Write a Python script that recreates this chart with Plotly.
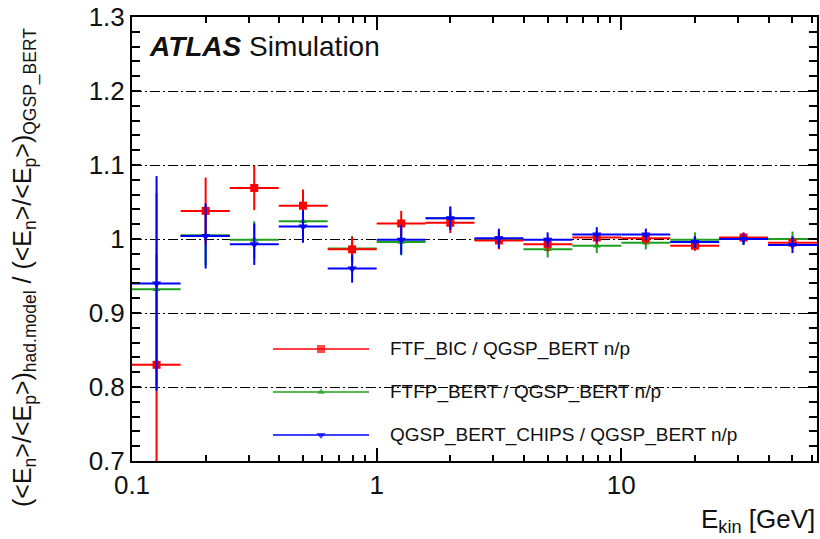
import plotly.graph_objects as go

# ---------------- data ----------------
bin_centers = [0.126, 0.2, 0.316, 0.5, 0.794, 1.26, 2.0, 3.16, 5.0, 7.94, 12.6, 20.0, 31.6, 50.1]
bin_edges = [0.1, 0.158, 0.251, 0.398, 0.631, 1.0, 1.585, 2.512, 3.981, 6.31, 10.0, 15.85, 25.12, 39.81, 63.1]

ftf_bic = [0.830, 1.038, 1.069, 1.045, 0.986, 1.021, 1.022, 0.998, 0.993, 1.002, 1.001, 0.991, 1.002, 0.995]
ftf_bic_err = [0.150, 0.045, 0.030, 0.022, 0.017, 0.017, 0.014, 0.012, 0.010, 0.009, 0.008, 0.007, 0.007, 0.008]

ftfp_bert = [0.932, 1.005, 0.999, 1.024, 0.987, 0.996, 1.028, 0.999, 0.986, 0.991, 0.995, 0.999, 1.000, 1.000]
ftfp_bert_err = [0.130, 0.040, 0.025, 0.022, 0.017, 0.018, 0.015, 0.012, 0.011, 0.010, 0.009, 0.010, 0.008, 0.010]

chips = [0.940, 1.004, 0.993, 1.017, 0.960, 0.999, 1.028, 1.001, 0.999, 1.006, 1.006, 0.996, 1.000, 0.992]
chips_err = [0.145, 0.044, 0.028, 0.022, 0.019, 0.020, 0.016, 0.013, 0.010, 0.010, 0.008, 0.008, 0.008, 0.011]

labels = ["FTF_BIC / QGSP_BERT n/p", "FTFP_BERT / QGSP_BERT n/p", "QGSP_BERT_CHIPS / QGSP_BERT n/p"]
y_ticks = [0.7, 0.8, 0.9, 1.0, 1.1, 1.2, 1.3]

# ---------------- style ----------------
FONT = "Liberation Sans, Arial, sans-serif"
RED, GREEN, BLUE = "#ff0000", "#1f9f1f", "#0000ff"
W, H = 820, 539
ML, MR, MT, MB = 132, 3, 17, 78

x_plus = [bin_edges[i + 1] - c for i, c in enumerate(bin_centers)]
x_minus = [c - bin_edges[i] for i, c in enumerate(bin_centers)]

fig = go.Figure()

def add_series(vals, errs, color, symbol, size, name):
    fig.add_trace(go.Scatter(
        x=bin_centers, y=vals, mode="markers", name=name, showlegend=False,
        marker=dict(color=color, symbol=symbol, size=size, line=dict(width=0)),
        error_y=dict(type="data", array=errs, color=color, thickness=2, width=0),
        error_x=dict(type="data", array=x_plus, arrayminus=x_minus, color=color, thickness=2, width=0),
    ))

add_series(ftfp_bert, ftfp_bert_err, GREEN, "triangle-up", 7, labels[1])
add_series(ftf_bic, ftf_bic_err, RED, "square", 8, labels[0])
add_series(chips, chips_err, BLUE, "triangle-down", 8, labels[2])

# ---------------- legend (overlay axis in paper-like units) ----------------
def px_x(p):
    return (p - ML) / (W - ML - MR)

def px_y(p):
    return 1 - (p - MT) / (H - MT - MB)

leg_x0, leg_x1, leg_xm = px_x(273), px_x(369), px_x(321)
leg_rows = [px_y(349), px_y(392), px_y(435)]
leg_specs = [(RED, "square", 8), (GREEN, "triangle-up", 7), (BLUE, "triangle-down", 8)]
for (color, symbol, size), yy, lab in zip(leg_specs, leg_rows, labels):
    fig.add_trace(go.Scatter(
        x=[leg_x0, leg_xm, leg_x1], y=[yy, yy, yy], mode="lines+markers",
        xaxis="x2", yaxis="y2", showlegend=False, hoverinfo="skip",
        line=dict(color=color, width=1.5),
        marker=dict(color=color, symbol=symbol, size=[0, size, 0], line=dict(width=0)),
    ))
    fig.add_annotation(x=px_x(388), y=yy, xref="paper", yref="paper", text=lab,
                       showarrow=False, xanchor="left", yanchor="middle",
                       font=dict(family=FONT, size=19, color="#111111"))

axis_common = dict(showline=True, linecolor="black", linewidth=2, mirror="ticks",
                   ticks="inside", tickcolor="black", tickwidth=1.5, automargin=False,
                   tickfont=dict(family=FONT, size=26, color="#111111"), zeroline=False)

fig.update_layout(
    template="none",
    width=W, height=H,
    margin=dict(l=ML, r=MR, t=MT, b=MB, autoexpand=False),
    paper_bgcolor="white", plot_bgcolor="white",
    showlegend=False,
    xaxis=dict(type="log", range=[-1, 1.8], dtick=1, ticklen=13, showgrid=False,
               minor=dict(ticks="inside", ticklen=6, dtick="D1", tickcolor="black", tickwidth=1.5, showgrid=False),
               **axis_common),
    yaxis=dict(range=[0.7, 1.3], tickvals=y_ticks, ticklen=9, showgrid=True,
               gridcolor="black", gridwidth=1, griddash="10px,3px,2px,3px",
               minor=dict(ticks="inside", ticklen=8, dtick=0.02, tick0=0.7, tickcolor="black", tickwidth=1.5, showgrid=False),
               **axis_common),
    xaxis2=dict(overlaying="x", range=[0, 1], visible=False, fixedrange=True),
    yaxis2=dict(overlaying="y", range=[0, 1], visible=False, fixedrange=True),
)

# ATLAS label
fig.add_annotation(x=px_x(147), y=px_y(46), xref="paper", yref="paper",
                   text="<b><i>ATLAS</i></b> Simulation", showarrow=False,
                   xanchor="left", yanchor="middle",
                   font=dict(family=FONT, size=28, color="#111111"))

# axis titles
fig.add_annotation(x=1.0, y=px_y(520), xref="paper", yref="paper",
                   text="E<sub>kin</sub> [GeV]", showarrow=False,
                   xanchor="right", yanchor="middle",
                   font=dict(family=FONT, size=26, color="#111111"))
fig.add_annotation(x=px_x(24), y=px_y(268), xref="paper", yref="paper",
                   text="(&lt;E<sub>n</sub>&gt;/&lt;E<sub>p</sub>&gt;)<sub>had.model</sub> / "
                        "(&lt;E<sub>n</sub>&gt;/&lt;E<sub>p</sub>&gt;)<sub>QGSP_BERT</sub>",
                   showarrow=False, textangle=-90, xanchor="center", yanchor="middle",
                   font=dict(family=FONT, size=25, color="#111111"))

fig.write_html("out.html", config={"displayModeBar": False},
               post_script="document.body.style.margin='0';document.body.style.overflow='hidden';")
